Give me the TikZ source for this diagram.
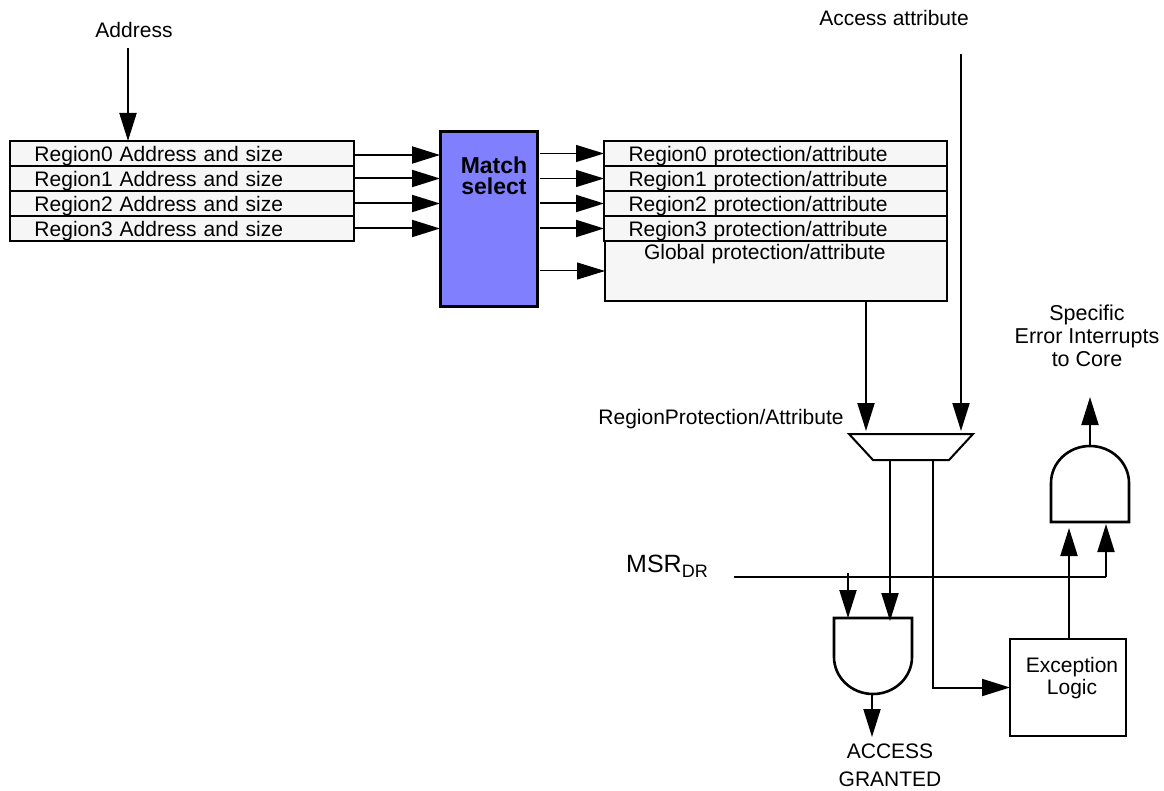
\documentclass[tikz,border=0pt]{standalone}
\usepackage{fontspec}
\setmainfont{Liberation Sans}
\usetikzlibrary{positioning,arrows.meta}
\definecolor{matchblue}{HTML}{8080FF}
\definecolor{rowgray}{HTML}{F6F6F6}
\tikzset{
  every node/.style={inner sep=0pt, outer sep=0pt, font=\fontsize{21}{25}\selectfont},
  regionrow/.style={draw=black, line width=1.8pt, fill=rowgray, anchor=west, text height=20.5pt, text depth=4.5pt, align=left, execute at begin node=\hspace*{24.5pt}},
  sigarrow/.style={line width=2pt, -{Triangle[length=28pt,width=17pt]}},
  thinarrow/.style={line width=1pt, -{Triangle[length=28pt,width=17pt]}},
  wire/.style={line width=2pt},
  gate/.style={line width=2.6pt, line join=miter},
}
\begin{document}
\begin{tikzpicture}[x=1pt, y=-1pt]
  \useasboundingbox (0,0) rectangle (1164,791);
  % address side
  \node[regionrow, text width=344pt] (a0) at (10,153.5) {Region0 Address and size};
  \node[regionrow, text width=344pt] (a1) at (10,178.5) {Region1 Address and size};
  \node[regionrow, text width=344pt] (a2) at (10,203.5) {Region2 Address and size};
  \node[regionrow, text width=344pt] (a3) at (10,228.5) {Region3 Address and size};
  \node (addr) at (134,30) {Address};
  \coordinate (addrin) at (128,48);
  \draw[sigarrow] (addrin) -- (addrin |- a0.north);
  % match select
  \node[draw=black, line width=3pt, fill=matchblue, anchor=north west, minimum width=97pt, minimum height=175pt] (ms) at (440,132) {};
  \node[font=\fontsize{23}{21}\selectfont\bfseries, align=center] (mstext) at (494,176) {Match\\select};
  \draw[sigarrow] ([yshift=-1.5pt]a0.east) -- ([yshift=-1.5pt]ms.west |- a0.east);
  \draw[sigarrow] (a1.east) -- (ms.west |- a1.east);
  \draw[sigarrow] (a2.east) -- (ms.west |- a2.east);
  \draw[sigarrow] (a3.east) -- (ms.west |- a3.east);
  % protection side
  \node[regionrow, text width=343pt] (p0) at (604,153.5) {Region0 protection/attribute};
  \node[regionrow, text width=343pt] (p1) at (604,178.5) {Region1 protection/attribute};
  \node[regionrow, text width=343pt] (p2) at (604,203.5) {Region2 protection/attribute};
  \node[regionrow, text width=343pt] (p3) at (604,228.5) {Region3 protection/attribute};
  \node[regionrow, text width=342pt, text height=19pt, text depth=41pt, anchor=north west, execute at begin node=\hspace*{14.5pt}] (p4) at (605,241) {Global protection/attribute};
  \draw[thinarrow] ([xshift=3pt]ms.east |- p0.west) -- (p0.west);
  \draw[thinarrow] ([xshift=3pt]ms.east |- p1.west) -- (p1.west);
  \draw[sigarrow] ([xshift=3pt]ms.east |- p2.west) -- (p2.west);
  \draw[sigarrow] ([xshift=3pt]ms.east |- p3.west) -- (p3.west);
  \draw[thinarrow] ([xshift=3pt]ms.east |- p4.west) -- (p4.west);
  % mux
  \coordinate (muxl) at (849,434);
  \coordinate (muxr) at (973,434);
  \coordinate (muxbr) at (949,460);
  \coordinate (muxbl) at (873,460);
  \draw[wire] (muxl) -- (muxr) -- (muxbr) -- (muxbl) -- cycle;
  \node (attr) at (894,18) {Access attribute};
  \node (regattr) at (721,419.5) {RegionProtection/Attribute};
  \coordinate (attrin) at (961,54);
  \coordinate (regout) at (866,301);
  \draw[sigarrow] (attrin) -- ([yshift=3pt]attrin |- muxr);
  \draw[sigarrow] (regout) -- ([yshift=3pt]regout |- muxl);
  % gates
  \coordinate (andtop) at (873,618);
  \coordinate (andbot) at (872,694);
  \coordinate (andout) at (872,737);
  \coordinate (ortop) at (1090,446);
  \coordinate (orout) at (1090,397);
  \coordinate (orin) at (1106,524);
  \draw[gate] (834,618) -- (912,618) -- (912,657) arc[start angle=0, end angle=-180, x radius=39pt, y radius=37pt] -- cycle;
  \draw[gate] (1051,522) -- (1051,483) arc[start angle=180, end angle=0, x radius=39pt, y radius=37pt] -- (1129,522) -- cycle;
  \coordinate (muxa) at (890,460);
  \coordinate (muxb) at (933,460);
  \coordinate (msr) at (734,577);
  \coordinate (msrup) at (1106,577);
  \coordinate (stub) at (848,573);
  \node[font=\fontsize{25}{25}\selectfont] (msrtext) at (667,566) {MSR\raisebox{-5pt}{\fontsize{18}{18}\selectfont DR}};
  \node[draw=black, line width=1.8pt, anchor=north west, minimum width=116pt, minimum height=97pt] (exc) at (1010,639) {};
  \node[align=center, font=\fontsize{21}{22}\selectfont] (exctext) at (1072,678) {Exception\\Logic};
  \coordinate (excout) at (1069,639);
  \coordinate (exctip) at (1069,528);
  \draw[wire] (msr) -- (msrup);
  \draw[sigarrow] (msrup) -- (orin);
  \draw[sigarrow] (stub) -- (stub |- andtop);
  \draw[sigarrow] (muxa) -- ([yshift=-3pt]muxa |- andtop);
  \draw[sigarrow] (muxb) |- (exc.west);
  \draw[sigarrow] (excout) -- (exctip);
  \draw[sigarrow] (andbot) -- (andout);
  \draw[sigarrow] (ortop) -- (orout);
  % labels
  \node[align=center, font=\fontsize{21.5}{23}\selectfont] (core) at (1087,336) {Specific\\Error Interrupts\\to Core};
  \node (acc) at (890,751) {ACCESS};
  \node[below=13pt of acc] (grant) {GRANTED};
\end{tikzpicture}
\end{document}
